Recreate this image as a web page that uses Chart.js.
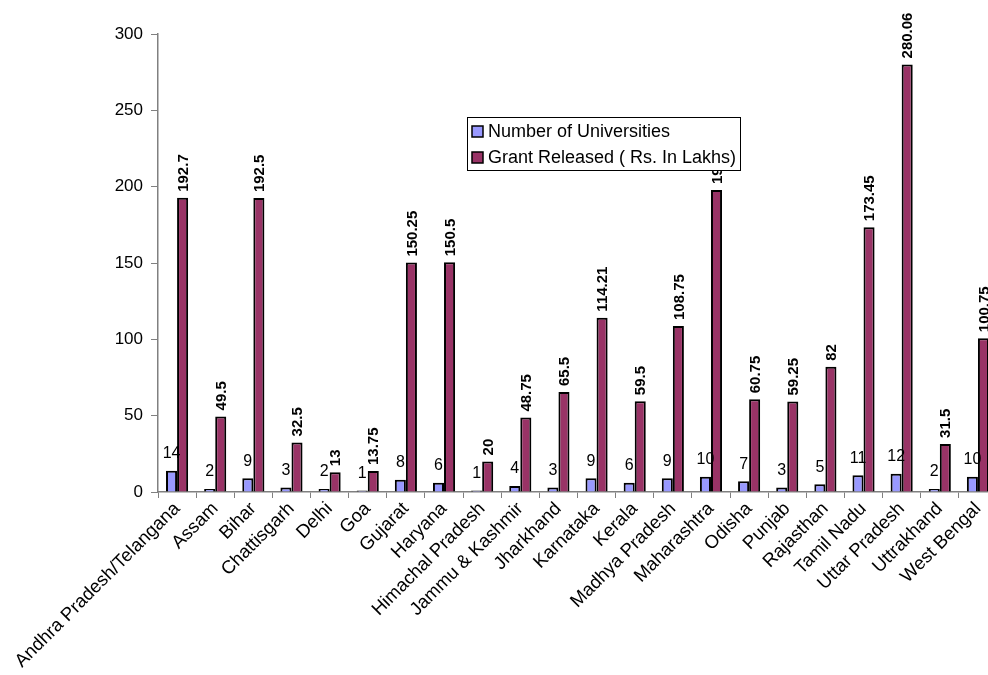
<!DOCTYPE html>
<html>
<head>
<meta charset="utf-8">
<script src="https://cdn.jsdelivr.net/npm/chart.js@4.4.0/dist/chart.umd.min.js"></script>
<style>
  html, body { margin: 0; padding: 0; background: #fff; overflow: hidden; }
  #wrap { position: relative; width: 1000px; height: 675px; }
</style>
</head>
<body>
<div id="wrap"><canvas id="grantChart"></canvas></div>
<script>
// States / UTs
const states = ['Andhra Pradesh/Telangana', 'Assam', 'Bihar', 'Chattisgarh', 'Delhi', 'Goa', 'Gujarat',
    'Haryana', 'Himachal Pradesh', 'Jammu & Kashmir', 'Jharkhand', 'Karnataka', 'Kerala', 'Madhya Pradesh',
    'Maharashtra', 'Odisha', 'Punjab', 'Rajasthan', 'Tamil Nadu', 'Uttar Pradesh', 'Uttrakhand', 'West Bengal'];
const universities = [14, 2, 9, 3, 2, 1, 8, 6, 1, 4, 3, 9, 6, 9, 10, 7, 3, 5, 11, 12, 2, 10];
const grants = [192.7, 49.5, 192.5, 32.5, 13, 13.75, 150.25, 150.5, 20, 48.75, 65.5, 114.21, 59.5, 108.75,
    197.75, 60.75, 59.25, 82, 173.45, 280.06, 31.5, 100.75];
const yTicks = [0, 50, 100, 150, 200, 250, 300];

const FONT = '"Liberation Sans", Arial, sans-serif';

// value labels above each bar
const valueLabels = {
    id: 'valueLabels',
    afterDatasetsDraw(chart) {
        const ctx = chart.ctx;
        ctx.save();
        ctx.fillStyle = '#000';
        chart.data.datasets.forEach((ds, i) => {
            const meta = chart.getDatasetMeta(i);
            meta.data.forEach((bar, j) => {
                const v = ds.data[j];
                if (i === 0) {
                    ctx.font = '16px ' + FONT;
                    ctx.textAlign = 'center';
                    ctx.textBaseline = 'bottom';
                    ctx.fillText(String(v), bar.x, bar.y - 9);
                } else {
                    ctx.save();
                    ctx.translate(bar.x, bar.y - 6);
                    ctx.rotate(-Math.PI / 2);
                    ctx.font = 'bold 15px ' + FONT;
                    ctx.textAlign = 'left';
                    ctx.textBaseline = 'middle';
                    ctx.fillText(String(v), 0, 1);
                    ctx.restore();
                }
            });
        });
        ctx.restore();
    }
};

// boxed legend sitting inside the plot
const boxLegend = {
    id: 'boxLegend',
    afterDraw(chart) {
        const ctx = chart.ctx;
        const x = 467, y = 117, w = 273, h = 53;
        ctx.save();
        ctx.fillStyle = '#fff';
        ctx.fillRect(x, y, w, h);
        ctx.strokeStyle = '#000';
        ctx.lineWidth = 1;
        ctx.strokeRect(x + 0.5, y + 0.5, w, h);
        ctx.font = '18px ' + FONT;
        ctx.textBaseline = 'middle';
        ctx.textAlign = 'left';
        chart.data.datasets.forEach((ds, i) => {
            const cy = y + 14 + i * 26;
            ctx.fillStyle = ds.backgroundColor;
            ctx.fillRect(x + 5, cy - 5, 11, 11);
            ctx.strokeStyle = '#000';
            ctx.lineWidth = 1.5;
            ctx.strokeRect(x + 5, cy - 5, 11, 11);
            ctx.fillStyle = '#000';
            ctx.fillText(ds.label, x + 21, cy + 1);
        });
        ctx.restore();
    }
};

const ctx = document.getElementById('grantChart').getContext('2d');
new Chart(ctx, {
    type: 'bar',
    data: {
        labels: states,
        datasets: [{
            label: 'Number of Universities',
            data: universities,
            backgroundColor: '#9999FF',
            borderColor: '#000',
            borderWidth: 2
        }, {
            label: 'Grant Released ( Rs. In Lakhs)',
            data: grants,
            backgroundColor: '#993366',
            borderColor: '#000',
            borderWidth: 2
        }]
    },
    options: {
        responsive: true,
        maintainAspectRatio: false,
        animation: false,
        layout: { padding: { top: 34, right: 3, left: 0, bottom: 0 } },
        datasets: { bar: { categoryPercentage: 0.58, barPercentage: 1.0 } },
        plugins: {
            legend: { display: false },
            tooltip: { enabled: false }
        },
        scales: {
            x: {
                grid: { display: true, drawOnChartArea: false, offset: true, color: '#808080', tickLength: 6 },
                border: { color: '#808080', width: 1.5 },
                ticks: {
                    color: '#000',
                    font: { family: FONT, size: 18.5 },
                    minRotation: 45,
                    maxRotation: 45,
                    autoSkip: false,
                    padding: 0
                },
                afterFit(scale) { scale.height = 183; }
            },
            y: {
                min: 0,
                max: 300,
                afterBuildTicks(scale) { scale.ticks = yTicks.map(v => ({ value: v })); },
                grid: { display: true, drawOnChartArea: false, color: '#808080', tickLength: 7 },
                border: { color: '#808080', width: 1.5 },
                ticks: {
                    color: '#000',
                    font: { family: FONT, size: 17 },
                    padding: 8
                },
                afterFit(scale) { scale.width = 158; }
            }
        }
    },
    plugins: [valueLabels, boxLegend]
});
</script>
</body>
</html>
